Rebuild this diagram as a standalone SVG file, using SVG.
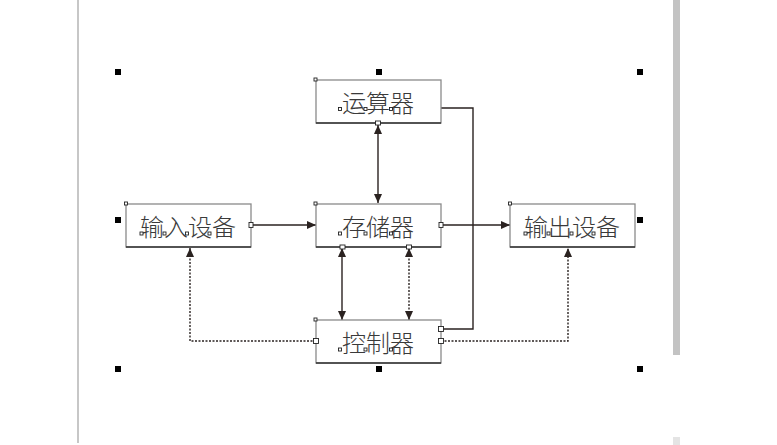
<svg xmlns="http://www.w3.org/2000/svg" width="777" height="445" viewBox="0 0 777 445">
<style>
.box{fill:#fff;stroke:#8a8a8a;stroke-width:1.3}
.bot{stroke:#333;stroke-width:1.3}
.lbl{font-family:"Noto Sans CJK SC","Noto Sans",sans-serif;font-size:24px;font-weight:300;fill:#3a3a3a;text-anchor:middle;dominant-baseline:central}
.pt{fill:#fff;stroke:#222;stroke-width:0.9}
.hd{fill:#000}
.ln{fill:none;stroke:#2a2220;stroke-width:1.4}
.dt{fill:none;stroke:#2a2220;stroke-width:1.4;stroke-dasharray:2 1.5}
</style>
<defs>
<marker id="ah" markerWidth="9" markerHeight="8" refX="9" refY="4" orient="auto-start-reverse" markerUnits="userSpaceOnUse">
<path d="M0,0 L9,4 L0,8 z" fill="#2a2220"/>
</marker>
</defs>
<rect width="777" height="445" fill="#fff"/>
<line x1="78" y1="0" x2="78" y2="443" stroke="#b4b4b4" stroke-width="1.5"/>
<rect x="673" y="0" width="7" height="355" fill="#c3c3c3"/>
<rect x="673" y="437" width="7" height="8" fill="#e4e4e4"/>

<g id="handles">
<rect class="hd" x="115" y="69" width="6" height="6"/>
<rect class="hd" x="376" y="69" width="6" height="6"/>
<rect class="hd" x="637" y="69" width="6" height="6"/>
<rect class="hd" x="115" y="217" width="6" height="6"/>
<rect class="hd" x="637" y="217" width="6" height="6"/>
<rect class="hd" x="115" y="366" width="6" height="6"/>
<rect class="hd" x="376" y="366" width="6" height="6"/>
<rect class="hd" x="637" y="366" width="6" height="6"/>
</g>

<g id="connectors">
<path class="ln" d="M378,125 V203" marker-start="url(#ah)" marker-end="url(#ah)"/>
<path class="ln" d="M251,225 H316" marker-end="url(#ah)"/>
<path class="ln" d="M441,225 H510" marker-end="url(#ah)"/>
<path class="ln" d="M441,108 H473 V329 H441"/>
<path class="ln" d="M342,248 V320" marker-start="url(#ah)" marker-end="url(#ah)"/>
<path class="dt" d="M409,248 V320" marker-start="url(#ah)" marker-end="url(#ah)"/>
<path class="dt" d="M316,341 H190 V248" marker-end="url(#ah)"/>
<path class="dt" d="M441,341 H568 V248" marker-end="url(#ah)"/>
</g>

<g id="n-alu">
<rect class="box" x="316" y="80" width="125" height="43"/>
<line class="bot" x1="316" y1="123" x2="441" y2="123"/>
<text class="lbl" x="378" y="101">运算器</text>
<rect class="pt" x="314" y="78" width="3" height="3"/>
<rect class="pt" x="338.5" y="107.5" width="3" height="3"/>
<rect class="pt" x="364" y="107.5" width="3" height="3"/>
<rect class="pt" x="389.5" y="107.5" width="3" height="3"/>
<rect class="pt" x="375.5" y="121" width="5" height="4"/>
</g>

<g id="n-mem">
<rect class="box" x="316" y="204" width="125" height="43"/>
<line class="bot" x1="316" y1="247" x2="441" y2="247"/>
<text class="lbl" x="378" y="225">存储器</text>
<rect class="pt" x="314" y="202" width="3" height="3"/>
<rect class="pt" x="338.5" y="232" width="3" height="3"/>
<rect class="pt" x="364" y="232" width="3" height="3"/>
<rect class="pt" x="389.5" y="232" width="3" height="3"/>
<rect class="pt" x="439" y="222.5" width="4" height="5"/>
<rect class="pt" x="340" y="245" width="5" height="4"/>
<rect class="pt" x="406.5" y="245" width="5" height="4"/>
</g>

<g id="n-in">
<rect class="box" x="126" y="204" width="125" height="43"/>
<line class="bot" x1="126" y1="247" x2="251" y2="247"/>
<text class="lbl" x="188" y="225">输入设备</text>
<rect class="pt" x="124.5" y="202" width="3" height="3"/>
<rect class="pt" x="140" y="232" width="3" height="3"/>
<rect class="pt" x="163" y="232" width="3" height="3"/>
<rect class="pt" x="185.5" y="232" width="3" height="3"/>
<rect class="pt" x="208" y="232" width="3" height="3"/>
<rect class="pt" x="249" y="222.5" width="4" height="5"/>
</g>

<g id="n-out">
<rect class="box" x="510" y="204" width="125" height="43"/>
<line class="bot" x1="510" y1="247" x2="635" y2="247"/>
<text class="lbl" x="572" y="225">输出设备</text>
<rect class="pt" x="508.5" y="202" width="3" height="3"/>
<rect class="pt" x="524" y="232" width="3" height="3"/>
<rect class="pt" x="547" y="232" width="3" height="3"/>
<rect class="pt" x="570" y="232" width="3" height="3"/>
<rect class="pt" x="592" y="232" width="3" height="3"/>
</g>

<g id="n-ctl">
<rect class="box" x="316" y="320" width="125" height="43"/>
<line class="bot" x1="316" y1="363" x2="441" y2="363"/>
<text class="lbl" x="378" y="341">控制器</text>
<rect class="pt" x="314" y="318" width="3" height="3"/>
<rect class="pt" x="338.5" y="348" width="3" height="3"/>
<rect class="pt" x="364" y="348" width="3" height="3"/>
<rect class="pt" x="389.5" y="348" width="3" height="3"/>
<rect class="pt" x="313.5" y="338.5" width="5" height="5"/>
<rect class="pt" x="438.5" y="326.5" width="5" height="5"/>
<rect class="pt" x="438.5" y="338.5" width="5" height="5"/>
</g>
</svg>
